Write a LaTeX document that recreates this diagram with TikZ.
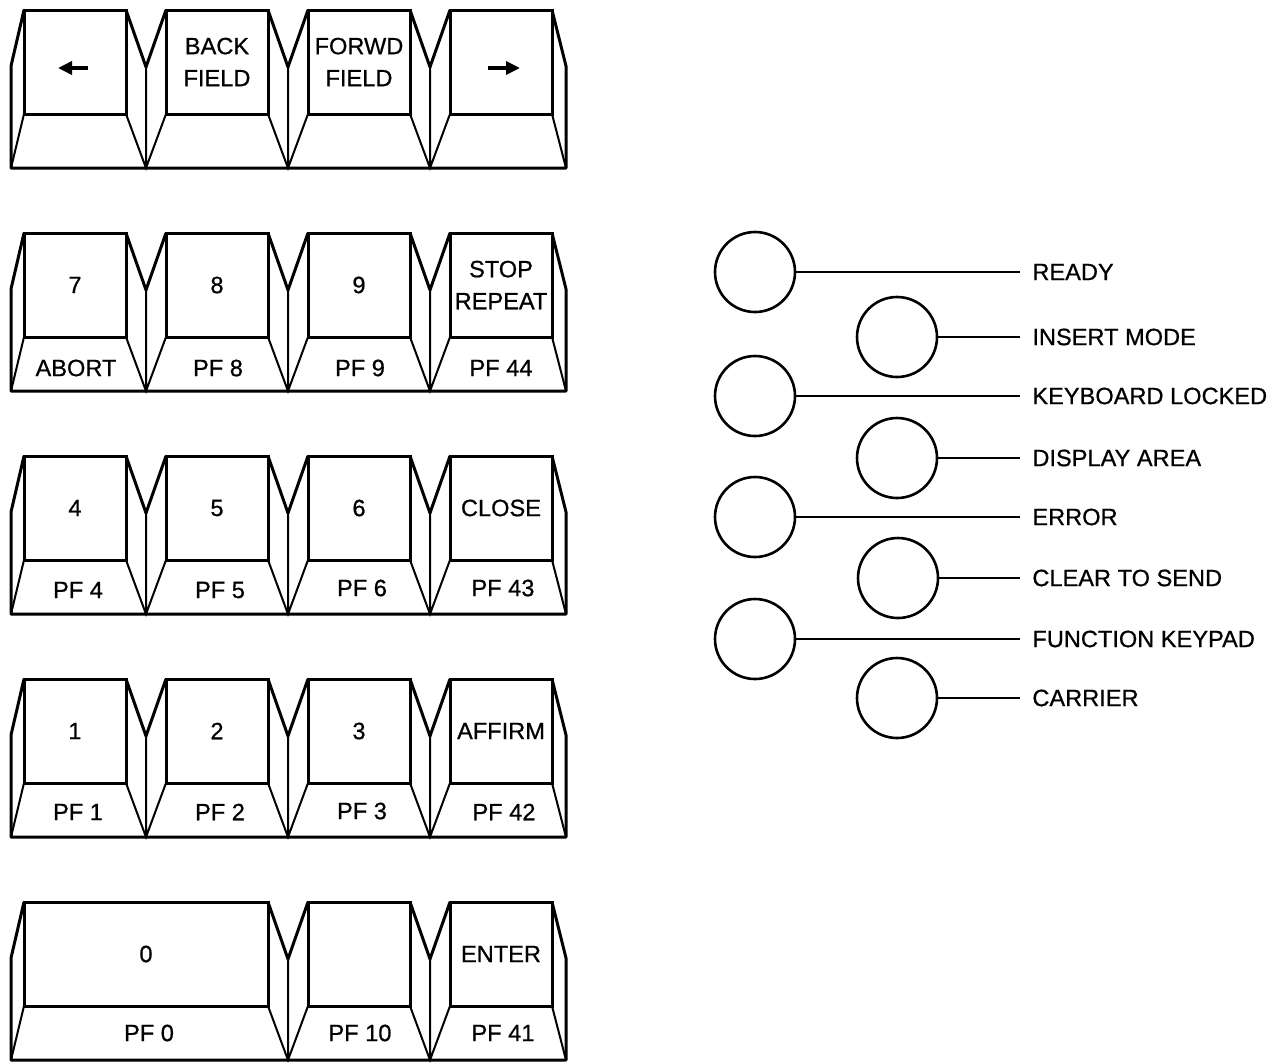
\documentclass[tikz,border=0pt]{standalone}
\usepackage{fontspec}
\setmainfont{Liberation Sans}[FakeBold=0.7]
\usetikzlibrary{arrows.meta}

\begin{document}
\begin{tikzpicture}[x=0.5pt,y=-0.5pt,>={Triangle[length=7pt,width=6.5pt]},
		face/.style={draw,line width=1.5pt,minimum width=51pt,minimum height=52pt,inner sep=0pt,
			align=center,font=\fontsize{11.8}{16}\selectfont},
		legend/.style={inner sep=0pt,font=\fontsize{11.8}{14}\selectfont},
		outline/.style={line width=1.5pt,line join=round},
		edge line/.style={line width=1pt},
		lamp/.style={circle,draw,line width=1.3pt,minimum size=40pt,inner sep=0pt},
		lamp label/.style={anchor=west,inner xsep=6pt,inner ysep=0pt,font=\fontsize{11.8}{14}\selectfont},
		lead/.style={line width=0.8pt}]

			\useasboundingbox (0,0) rectangle (1278,1062);

			% Key rows 1-4
			\foreach \T in {10,233,456,679} {
				\draw[outline] (24,\T) -- (11,\T+56) -- (11,\T+158) -- (566,\T+158) -- (566,\T+56) -- (552,\T);
				\draw[edge line] (24,\T+104) -- (11,\T+158) (552,\T+104) -- (566,\T+158);
				\foreach \v in {146,288,430} {
					\draw[outline] (\v-20,\T) -- (\v,\T+57) -- (\v+20,\T);
					\draw[edge line] (\v,\T+57) -- (\v,\T+158) (\v-20,\T+104) -- (\v,\T+158) -- (\v+20,\T+104);
				}
			}

			% Key row 5
			\draw[outline] (24,902) -- (11,958) -- (11,1060) -- (566,1060) -- (566,958) -- (552,902);
			\draw[edge line] (24,1006) -- (11,1060) (552,1006) -- (566,1060);
			\foreach \v in {288,430} {
				\draw[outline] (\v-20,902) -- (\v,959) -- (\v+20,902);
				\draw[edge line] (\v,959) -- (\v,1060) (\v-20,1006) -- (\v,1060) -- (\v+20,1006);
			}

			% Key tops
			\node[face] (kleft) at (75,62) {};
			\node[face] (kback) at (217,62) {BACK\\FIELD};
			\node[face] (kforwd) at (359,62) {FORWD\\FIELD};
			\node[face] (kright) at (501,62) {};

			\node[face] (k7) at (75,285) {7};
			\node[face] (k8) at (217,285) {8};
			\node[face] (k9) at (359,285) {9};
			\node[face] (kstop) at (501,285) {STOP\\REPEAT};

			\node[face] (k4) at (75,508) {4};
			\node[face] (k5) at (217,508) {5};
			\node[face] (k6) at (359,508) {6};
			\node[face] (kclose) at (501,508) {CLOSE};

			\node[face] (k1) at (75,731) {1};
			\node[face] (k2) at (217,731) {2};
			\node[face] (k3) at (359,731) {3};
			\node[face] (kaffirm) at (501,731) {AFFIRM};

			\node[face,minimum width=122pt] (k0) at (146,954) {0};
			\node[face] (kblank) at (359,954) {};
			\node[face] (kenter) at (501,954) {ENTER};

			% Cursor arrows
			\draw[->,line width=2pt] ([xshift=6.5pt,yshift=-3pt]kleft.center) -- ([xshift=-8.5pt,yshift=-3pt]kleft.center);
			\draw[->,line width=2pt] ([xshift=-6.5pt,yshift=-3pt]kright.center) -- ([xshift=9.5pt,yshift=-3pt]kright.center);

			% Key fronts
			\node[legend] (pfabort) at (76,368) {ABORT};
			\node[legend] (pf8) at (218,368) {PF 8};
			\node[legend] (pf9) at (360,368) {PF 9};
			\node[legend] (pf44) at (501,368) {PF 44};

			\node[legend] (pf4) at (78,590) {PF 4};
			\node[legend] (pf5) at (220,590) {PF 5};
			\node[legend] (pf6) at (362,588) {PF 6};
			\node[legend] (pf43) at (503,588) {PF 43};

			\node[legend] (pf1) at (78,812) {PF 1};
			\node[legend] (pf2) at (220,812) {PF 2};
			\node[legend] (pf3) at (362,811) {PF 3};
			\node[legend] (pf42) at (504,812) {PF 42};

			\node[legend] (pf0) at (149,1033) {PF 0};
			\node[legend] (pf10) at (360,1033) {PF 10};
			\node[legend] (pf41) at (503,1033) {PF 41};

			% Indicators
			\node[lamp] (ready) at (755,272) {};
			\node[lamp] (insert) at (897,337) {};
			\node[lamp] (locked) at (755,396) {};
			\node[lamp] (display) at (897,458) {};
			\node[lamp] (error) at (755,517) {};
			\node[lamp] (cts) at (898,578) {};
			\node[lamp] (keypad) at (755,639) {};
			\node[lamp] (carrier) at (897,698) {};

			\node[lamp label] (lready) at (1020,272) {READY};
			\node[lamp label] (linsert) at (1020,337) {INSERT MODE};
			\node[lamp label] (llocked) at (1020,396) {KEYBOARD LOCKED};
			\node[lamp label] (ldisplay) at (1020,458) {DISPLAY AREA};
			\node[lamp label] (lerror) at (1020,517) {ERROR};
			\node[lamp label] (lcts) at (1020,578) {CLEAR TO SEND};
			\node[lamp label] (lkeypad) at (1020,639) {FUNCTION KEYPAD};
			\node[lamp label] (lcarrier) at (1020,698) {CARRIER};

			\draw[lead] (ready) -- (lready);
			\draw[lead] (insert) -- (linsert);
			\draw[lead] (locked) -- (llocked);
			\draw[lead] (display) -- (ldisplay);
			\draw[lead] (error) -- (lerror);
			\draw[lead] (cts) -- (lcts);
			\draw[lead] (keypad) -- (lkeypad);
			\draw[lead] (carrier) -- (lcarrier);

		\end{tikzpicture}
\end{document}
